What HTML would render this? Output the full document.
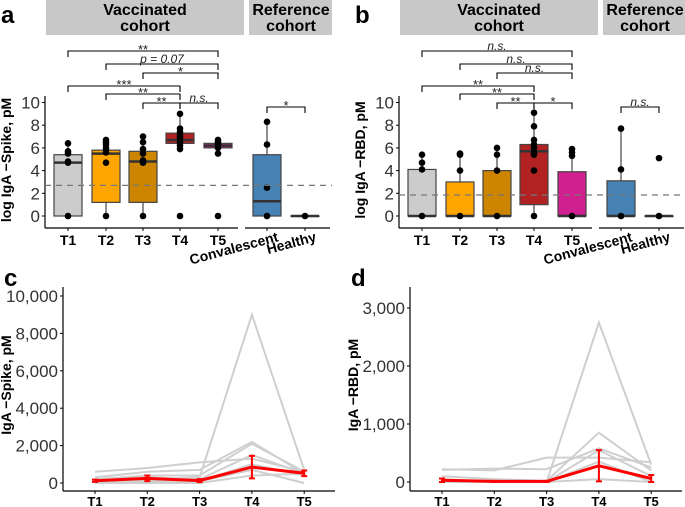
<!DOCTYPE html>
<html><head><meta charset="utf-8"><style>
body{margin:0;background:#fff;}
svg{display:block;font-family:"Liberation Sans",Arial,sans-serif;}
</style></head><body>
<svg id="fig" width="685" height="507" viewBox="0 0 685 507"></svg>
<script>
// ---- Box plot data (log pM) ----
const boxCats = ["T1","T2","T3","T4","T5","Convalescent","Healthy"];
const boxColors = ["#cccccc","#ffa500","#cd8500","#b22222","#d02090","#4682b4","#4682b4"];
const spikeQ1 = [0,1.2,1.2,6.4,6.0,0,0];
const spikeMed = [4.7,5.5,4.8,6.7,6.2,1.3,0];
const spikeQ3 = [5.4,5.8,5.7,7.3,6.4,5.4,0];
const spikeMin = [0,0,0,5.9,5.5,0,0];
const spikeMax = [6.4,6.7,7.0,9.0,6.7,8.3,0];
const spikePts = [[6.4,5.7,5.5,4.8,4.7,0],[6.7,6.5,6.3,6.0,5.8,5.6,4.7,0],[7.0,6.5,5.9,5.5,4.9,4.7,0],[9.0,7.7,7.4,7.2,7.0,6.8,6.5,6.2,5.9,0],[6.7,6.5,6.3,6.0,5.5,0],[8.3,6.3,2.5,0],[0]];
const spikeCutoff = 2.7;
const rbdQ1 = [0,0,0,1.0,0,0,0];
const rbdMed = [0,0,0,5.7,0,0,0];
const rbdQ3 = [4.1,3.0,4.0,6.3,3.9,3.1,0];
const rbdMin = [0,0,0,0,0,0,0];
const rbdMax = [5.4,5.5,6.0,9.1,5.9,7.7,0];
const rbdPts = [[5.4,4.7,4.1,0],[5.5,5.4,4.0,0],[6.0,5.4,4.0,0],[9.1,7.9,6.7,6.3,6.0,5.6,5.4,4.0,0],[5.9,5.6,5.3,0],[7.7,4.1,0],[5.1,0]];
const rbdCutoff = 1.85;
const yTicksBox = [0,2,4,6,8,10];
// brackets: [fromIdx,toIdx,row,label]
const spikeBrackets = [[0,4,0,"**"],[1,4,1,"p = 0.07"],[2,4,2,"*"],[0,3,3,"***"],[1,3,4,"**"],[2,3,5,"**"],[3,4,5,"n.s."],[5,6,6,"*"]];
const rbdBrackets = [[0,4,0,"n.s."],[1,4,1,"n.s."],[2,4,2,"n.s."],[0,3,3,"**"],[1,3,4,"**"],[2,3,5,"**"],[3,4,5,"*"],[5,6,6,"n.s."]];
// ---- Line chart data (pM) ----
const timeCats = ["T1","T2","T3","T4","T5"];
const spikeSubjects = [[100,200,300,9000,700],[600,800,1100,1300,600],[300,600,700,2200,500],[200,400,400,2100,600],[100,300,200,1500,500],[200,100,100,1000,400],[50,100,100,700,0],[0,0,0,400,500],[150,250,150,900,450]];
const spikeMean = [120,250,130,850,520];
const spikeErr = [60,150,80,600,150];
const spikeTicks = [0,2000,4000,6000,8000,10000];
const rbdSubjects = [[0,0,0,2750,300],[220,200,420,420,340],[210,230,220,580,250],[100,50,20,850,200],[50,0,0,550,100],[0,0,0,350,0],[0,0,0,50,0]];
const rbdMean = [30,10,10,280,60];
const rbdErr = [30,10,10,270,60];
const rbdTicks = [0,1000,2000,3000];

const NS="http://www.w3.org/2000/svg";
const svg=document.getElementById('fig');
function el(tag,attrs,parent,text){const e=document.createElementNS(NS,tag);for(const k in attrs)e.setAttribute(k,attrs[k]);if(text!==undefined)e.textContent=text;(parent||svg).appendChild(e);return e;}
function fmt(v){return v.toLocaleString('en-US');}

function boxPanel(ox,letter,ytitle,q1,med,q3,mn,mx,pts,cut,brackets){
  const g=el('g',{});
  
  
  const xs=[23,61,98,135,173,222,260].map(v=>ox+v);
  const y=v=>216-v*11.35;
  const L=el('text',{x:ox-45+1,y:23,'font-size':24,'font-weight':'bold'},g,letter);
  
  
  const s1=el('rect',{x:ox+1,y:0,width:198,height:35,fill:'#c8c8c8'},g);
  
  
  const s2=el('rect',{x:ox+204,y:0,width:83,height:35,fill:'#c8c8c8'},g);
  
  
  el('text',{x:ox+100,y:15,'font-size':16,'font-weight':'bold','text-anchor':'middle'},g,'Vaccinated');
  el('text',{x:ox+100,y:31,'font-size':16,'font-weight':'bold','text-anchor':'middle'},g,'cohort');
  el('text',{x:ox+246,y:15,'font-size':16,'font-weight':'bold','text-anchor':'middle'},g,'Reference');
  el('text',{x:ox+246,y:31,'font-size':16,'font-weight':'bold','text-anchor':'middle'},g,'cohort');
  el('line',{x1:ox,y1:96,x2:ox,y2:228,stroke:'#000','stroke-width':1.2},g);
  el('line',{x1:ox,y1:228,x2:ox+193,y2:228,stroke:'#000','stroke-width':1.2},g);
  el('line',{x1:ox+200,y1:228,x2:ox+285,y2:228,stroke:'#000','stroke-width':1.2},g);
  yTicksBox.forEach(t=>{
    el('line',{x1:ox-3,y1:y(t),x2:ox,y2:y(t),stroke:'#000'},g);
    const tx=el('text',{x:ox-5,y:y(t)+6,'font-size':17,'text-anchor':'end',fill:'#333'},g,t);
    
    
  });
  const yt=el('text',{x:0,y:0,'font-size':14,'font-weight':'bold','text-anchor':'middle',transform:`translate(${ox-34},160) rotate(-90)`},g,ytitle);
  
  
  boxCats.forEach((c,i)=>{
    el('line',{x1:xs[i],y1:228,x2:xs[i],y2:231,stroke:'#000'},g);
    if(i<5){const t=el('text',{x:xs[i],y:245,'font-size':14,'font-weight':'bold','text-anchor':'middle'},g,c);
      }
    else{const t=el('text',{x:xs[i]+12,y:241,'font-size':14,'font-weight':'bold','text-anchor':'end',transform:`rotate(-15 ${xs[i]+12} 241)`},g,c);
      }
    el('line',{x1:xs[i],y1:y(mx[i]),x2:xs[i],y2:y(mn[i]),stroke:'#444','stroke-width':1.2},g);
    const b=el('rect',{x:xs[i]-14,y:y(q3[i]),width:28,height:Math.max(y(q1[i])-y(q3[i]),0.5),fill:boxColors[i],stroke:'#444','stroke-width':1.2},g);
    
    
    el('line',{x1:xs[i]-14,y1:y(med[i]),x2:xs[i]+14,y2:y(med[i]),stroke:'#333','stroke-width':2.5},g);
    pts[i].forEach(p=>{const d=el('circle',{cx:xs[i],cy:y(p),r:3.3,fill:'#000'},g);
      });
  });
  const cl=el('line',{x1:ox,y1:y(cut),x2:ox+287,y2:y(cut),stroke:'#777','stroke-width':1.3,'stroke-dasharray':'6,5'},g);
  
  
  const rows=[51,64,73,86,94,103,107];
  brackets.forEach(([a,b,r,lab])=>{
    const yy=rows[r];
    const bg=el('path',{d:`M${xs[a]},${yy+6}V${yy}H${xs[b]}V${yy+6}`,fill:'none',stroke:'#000','stroke-width':1.1},g);
    
    
    const it=lab.indexOf('*')<0;
    el('text',{x:(xs[a]+xs[b])/2,y:yy-(it?1:-3),'font-size':it?12:13,'font-style':it?'italic':'normal','text-anchor':'middle',fill:'#222'},g,lab);
  });
}
boxPanel(45,'a','log IgA \u2212Spike, pM',spikeQ1,spikeMed,spikeQ3,spikeMin,spikeMax,spikePts,spikeCutoff,spikeBrackets);
boxPanel(399,'b','log IgA \u2212RBD, pM',rbdQ1,rbdMed,rbdQ3,rbdMin,rbdMax,rbdPts,rbdCutoff,rbdBrackets);

function linePanel(ox,x0,dx,letter,ytitle,y0px,ymaxPx,ymaxVal,ticks,subs,mean,err){
  const g=el('g',{});
  
  
  const y=v=>y0px-(v/ymaxVal)*(y0px-ymaxPx);
  const x=i=>x0+i*dx;
  const L=el('text',{x:ox-60+1,y:286,'font-size':24,'font-weight':'bold'},g,letter);
  
  
  el('line',{x1:ox,y1:287,x2:ox,y2:491,stroke:'#000','stroke-width':1.2},g);
  el('line',{x1:ox,y1:491,x2:ox+272,y2:491,stroke:'#000','stroke-width':1.2},g);
  ticks.forEach(t=>{
    el('line',{x1:ox-3,y1:y(t),x2:ox,y2:y(t),stroke:'#000'},g);
    const tx=el('text',{x:ox-5,y:y(t)+6,'font-size':17,'text-anchor':'end',fill:'#333'},g,fmt(t));
    
    
  });
  const yt=el('text',{x:0,y:0,'font-size':14,'font-weight':'bold','text-anchor':'middle',transform:`translate(${ox-52},385) rotate(-90)`},g,ytitle);
  
  
  timeCats.forEach((c,i)=>{
    el('line',{x1:x(i),y1:491,x2:x(i),y2:494,stroke:'#000'},g);
    const t=el('text',{x:x(i),y:506,'font-size':13,'font-weight':'bold','text-anchor':'middle'},g,c);
    
    
  });
  subs.forEach(s=>{
    const p=el('polyline',{points:s.map((v,i)=>x(i)+','+y(v)).join(' '),fill:'none',stroke:'#cfcfcf','stroke-width':2},g);
    
    
  });
  mean.forEach((m,i)=>{
    el('path',{d:`M${x(i)},${y(Math.max(m-err[i],0))}V${y(m+err[i])}M${x(i)-3},${y(Math.max(m-err[i],0))}H${x(i)+3}M${x(i)-3},${y(m+err[i])}H${x(i)+3}`,stroke:'#ff0000','stroke-width':2,fill:'none'},g);
  });
  const ml=el('polyline',{points:mean.map((v,i)=>x(i)+','+y(v)).join(' '),fill:'none',stroke:'#ff0000','stroke-width':3},g);
  
  
}
linePanel(63,95,52.3,'c','IgA \u2212Spike, pM',483,296,10000,spikeTicks,spikeSubjects,spikeMean,spikeErr);
linePanel(410,442,52.3,'d','IgA \u2212RBD, pM',482,308,3000,rbdTicks,rbdSubjects,rbdMean,rbdErr);
</script>
</body></html>
